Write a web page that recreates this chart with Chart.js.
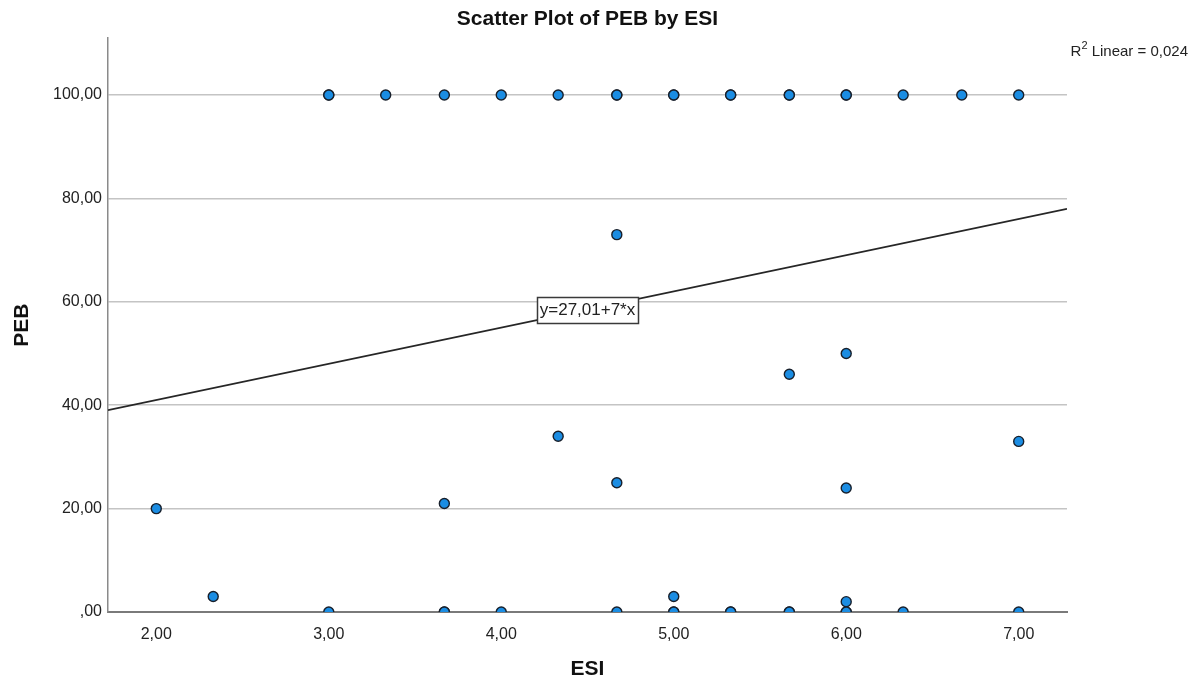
<!DOCTYPE html>
<html>
<head>
<meta charset="utf-8">
<script src="https://cdn.jsdelivr.net/npm/chart.js@4/dist/chart.umd.min.js"></script>
<style>
  html, body { margin: 0; padding: 0; background: #ffffff; }
  canvas { display: block; }
</style>
</head>
<body>
<canvas id="c" width="1198" height="686"></canvas>
<script>
// ---- data ----
const esiValues = [
  3.00, 3.00, 3.33, 3.67, 4.00, 4.33, 4.67, 4.67, 5.00, 5.00, 5.33, 5.33, 5.67, 5.67, 6.00, 6.00, 6.33, 6.67, 7.00,
  4.67, 5.67, 6.00, 4.33, 7.00, 2.00, 3.67, 4.67, 6.00,
  2.33, 5.00, 6.00,
  3.00, 3.67, 3.67, 4.00, 4.67, 5.00, 5.00, 5.33, 5.33, 5.67, 5.67, 6.00, 6.00, 6.33, 7.00
];
const pebValues = [
  100, 100, 100, 100, 100, 100, 100, 100, 100, 100, 100, 100, 100, 100, 100, 100, 100, 100, 100,
  73, 46, 50, 34, 33, 20, 21, 25, 24,
  3, 3, 2,
  0, 0, 0, 0, 0, 0, 0, 0, 0, 0, 0, 0, 0, 0, 0
];
const fitIntercept = 27.01;
const fitSlope = 7;
const fitLabel = 'y=27,01+7*x';
const r2Label = ['R', '2', ' Linear = 0,024'];
const xTickValues = [2, 3, 4, 5, 6, 7];
const xTickLabels = ['2,00', '3,00', '4,00', '5,00', '6,00', '7,00'];
const yTickValues = [0, 20, 40, 60, 80, 100];
const yTickLabels = [',00', '20,00', '40,00', '60,00', '80,00', '100,00'];
const chartTitle = 'Scatter Plot of PEB by ESI';
const xTitle = 'ESI';
const yTitle = 'PEB';

// ---- chart ----
const FONT = '"Liberation Sans", Arial, sans-serif';
const X_MIN = 1.72, X_MAX = 7.28, Y_MIN = 0, Y_MAX = 111;

const points = esiValues.map((x, i) => ({ x: x, y: pebValues[i] }));
const fitLine = [X_MIN, X_MAX].map(x => ({ x: x, y: fitIntercept + fitSlope * x }));

const annotations = {
  id: 'annotations',
  afterDatasetsDraw(chart) {
    const { ctx, chartArea, scales } = chart;
    // equation label box on the fit line at the middle of the plot
    const cx = (chartArea.left + chartArea.right) / 2;
    const xv = scales.x.getValueForPixel(cx);
    const cy = scales.y.getPixelForValue(fitIntercept + fitSlope * xv);
    ctx.save();
    ctx.font = '17px ' + FONT;
    const tw = ctx.measureText(fitLabel).width;
    const bw = Math.round(tw + 6), bh = 26;
    const bx = Math.round(cx - bw / 2) + 0.5, by = Math.round(cy - bh / 2) + 0.5;
    ctx.fillStyle = '#ffffff';
    ctx.fillRect(bx, by, bw, bh);
    ctx.strokeStyle = '#3a3a3a';
    ctx.lineWidth = 1.5;
    ctx.strokeRect(bx, by, bw, bh);
    ctx.fillStyle = '#222222';
    ctx.textAlign = 'center';
    ctx.textBaseline = 'middle';
    ctx.fillText(fitLabel, cx, cy + 1);

    // R² label top right
    ctx.textAlign = 'left';
    ctx.textBaseline = 'alphabetic';
    ctx.font = '15px ' + FONT;
    const wR = ctx.measureText(r2Label[0]).width;
    const wRest = ctx.measureText(r2Label[2]).width;
    ctx.font = '11px ' + FONT;
    const wSup = ctx.measureText(r2Label[1]).width;
    const right = 1188, base = 56;
    let x0 = right - (wR + wSup + wRest);
    ctx.font = '15px ' + FONT;
    ctx.fillText(r2Label[0], x0, base);
    ctx.font = '11px ' + FONT;
    ctx.fillText(r2Label[1], x0 + wR, base - 7);
    ctx.font = '15px ' + FONT;
    ctx.fillText(r2Label[2], x0 + wR + wSup, base);
    ctx.restore();
  }
};

new Chart(document.getElementById('c'), {
  type: 'scatter',
  data: {
    datasets: [
      {
        type: 'line',
        data: fitLine,
        borderColor: '#262626',
        borderWidth: 1.7,
        pointRadius: 0,
        fill: false,
        order: 2
      },
      {
        data: points,
        backgroundColor: '#1b8de3',
        borderColor: '#18202c',
        borderWidth: 1.4,
        pointRadius: 5,
        pointHoverRadius: 5,
        order: 1
      }
    ]
  },
  options: {
    responsive: false,
    animation: false,
    devicePixelRatio: 1,
    layout: { padding: { left: 0, right: 131, top: 0, bottom: 0 } },
    plugins: {
      legend: { display: false },
      tooltip: { enabled: false },
      title: {
        display: true,
        text: chartTitle,
        fullSize: false,
        color: '#111111',
        font: { family: FONT, size: 21, weight: 'bold', lineHeight: 1.2 },
        padding: { top: 7, bottom: 6 }
      }
    },
    scales: {
      x: {
        type: 'linear',
        min: X_MIN,
        max: X_MAX,
        afterFit(scale) { scale.height = 74; },
        afterBuildTicks(scale) { scale.ticks = xTickValues.map(v => ({ value: v })); },
        grid: { display: false, drawTicks: false },
        border: { display: true, color: '#7a7a7a', width: 2 },
        ticks: {
          padding: 13,
          color: '#222222',
          font: { family: FONT, size: 16 },
          maxRotation: 0,
          callback: (v) => { const i = xTickValues.indexOf(v); return i >= 0 ? xTickLabels[i] : ''; }
        },
        title: {
          display: true,
          text: xTitle,
          color: '#111111',
          font: { family: FONT, size: 21, weight: 'bold', lineHeight: 1.2 },
          padding: { top: 0, bottom: 4 }
        }
      },
      y: {
        type: 'linear',
        min: Y_MIN,
        max: Y_MAX,
        afterFit(scale) { scale.width = 108; },
        afterBuildTicks(scale) { scale.ticks = yTickValues.map(v => ({ value: v })); },
        grid: {
          display: true,
          drawTicks: false,
          color: (c) => c.tick && c.tick.value === 0 ? 'rgba(0,0,0,0)' : '#c4c4c4',
          lineWidth: 1.6
        },
        border: { display: true, color: '#8a8a8a', width: 1.5 },
        ticks: {
          padding: 6,
          color: '#222222',
          font: { family: FONT, size: 16 },
          callback: (v) => { const i = yTickValues.indexOf(v); return i >= 0 ? yTickLabels[i] : ''; }
        },
        title: {
          display: true,
          text: yTitle,
          color: '#111111',
          font: { family: FONT, size: 21, weight: 'bold', lineHeight: 1.2 },
          padding: { top: 10, bottom: 0 }
        }
      }
    }
  },
  plugins: [annotations]
});
</script>
</body>
</html>
